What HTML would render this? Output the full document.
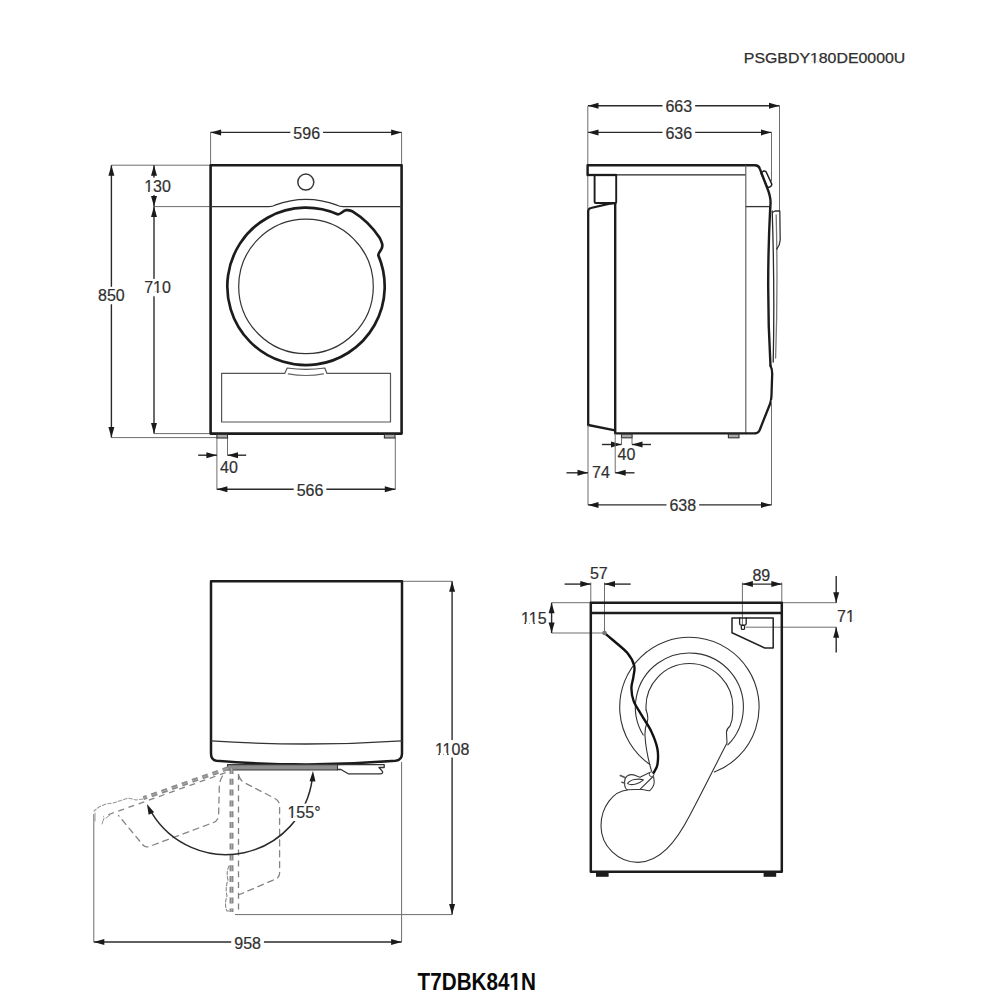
<!DOCTYPE html>
<html><head><meta charset="utf-8"><title>Dryer dimensions</title>
<style>
html,body{margin:0;padding:0;background:#fff;}
svg{display:block;}
text{font-family:"Liberation Sans",sans-serif;}
</style></head>
<body>
<svg width="1000" height="1000" viewBox="0 0 1000 1000">
<rect width="1000" height="1000" fill="#fff"/>
<text x="743.8" y="63.1" font-size="15" textLength="161.5" lengthAdjust="spacingAndGlyphs" fill="#2e2e2e" stroke="#2e2e2e" stroke-width="0.25">PSGBDY180DE0000U</text>
<rect x="810.53" y="61.53" width="3.35" height="2.52" fill="#fff"/>
<rect x="815.43" y="61.53" width="3.26" height="2.52" fill="#fff"/>
<line x1="210.6" y1="132.4" x2="210.6" y2="165.2" stroke="#6e6e6e" stroke-width="1" />
<line x1="401.6" y1="132.4" x2="401.6" y2="165.2" stroke="#6e6e6e" stroke-width="1" />
<line x1="111.4" y1="165.2" x2="210.6" y2="165.2" stroke="#6e6e6e" stroke-width="1" />
<line x1="154" y1="206.6" x2="210.6" y2="206.6" stroke="#6e6e6e" stroke-width="1" />
<line x1="154" y1="433.6" x2="210.6" y2="433.6" stroke="#6e6e6e" stroke-width="1" />
<line x1="111.4" y1="437.6" x2="227.5" y2="437.6" stroke="#6e6e6e" stroke-width="1" />
<line x1="216.9" y1="437.6" x2="216.9" y2="489.5" stroke="#6e6e6e" stroke-width="1" />
<line x1="227.5" y1="437.6" x2="227.5" y2="455.2" stroke="#6e6e6e" stroke-width="1" />
<line x1="395.3" y1="437.6" x2="395.3" y2="489.5" stroke="#6e6e6e" stroke-width="1" />
<line x1="210.6" y1="132.4" x2="401.6" y2="132.4" stroke="#2b2b2b" stroke-width="1.4" />
<polygon points="210.60,132.40 221.10,129.40 221.10,135.40" fill="#1a1a1a"/>
<polygon points="401.60,132.40 391.10,135.40 391.10,129.40" fill="#1a1a1a"/>
<rect x="290.36" y="124.47" width="32.69" height="17.46" fill="#fff"/>
<text x="306.7" y="138.93" font-size="16" text-anchor="middle" fill="#303030" stroke="#303030" stroke-width="0.2" font-weight="normal">596</text>
<line x1="111.4" y1="165.2" x2="111.4" y2="437.6" stroke="#2b2b2b" stroke-width="1.4" />
<polygon points="111.40,165.20 114.40,175.70 108.40,175.70" fill="#1a1a1a"/>
<polygon points="111.40,437.60 108.40,427.10 114.40,427.10" fill="#1a1a1a"/>
<rect x="95.06" y="286.77" width="32.69" height="17.46" fill="#fff"/>
<text x="111.4" y="301.23" font-size="16" text-anchor="middle" fill="#303030" stroke="#303030" stroke-width="0.2" font-weight="normal">850</text>
<line x1="154" y1="165.2" x2="154" y2="206.6" stroke="#2b2b2b" stroke-width="1.4" />
<polygon points="154.00,165.20 157.00,175.70 151.00,175.70" fill="#1a1a1a"/>
<polygon points="154.00,206.60 151.00,196.10 157.00,196.10" fill="#1a1a1a"/>
<rect x="141.16" y="177.57" width="32.69" height="17.46" fill="#fff"/>
<text x="157.5" y="192.03" font-size="16" text-anchor="middle" fill="#303030" stroke="#303030" stroke-width="0.2" font-weight="normal">130</text>
<rect x="144.72" y="190.38" width="3.37" height="2.60" fill="#fff"/>
<rect x="149.67" y="190.38" width="3.25" height="2.60" fill="#fff"/>
<line x1="154" y1="206.6" x2="154" y2="433.6" stroke="#2b2b2b" stroke-width="1.4" />
<polygon points="154.00,206.60 157.00,217.10 151.00,217.10" fill="#1a1a1a"/>
<polygon points="154.00,433.60 151.00,423.10 157.00,423.10" fill="#1a1a1a"/>
<rect x="141.16" y="278.87" width="32.69" height="17.46" fill="#fff"/>
<text x="157.5" y="293.33" font-size="16" text-anchor="middle" fill="#303030" stroke="#303030" stroke-width="0.2" font-weight="normal">710</text>
<rect x="153.62" y="291.68" width="3.37" height="2.60" fill="#fff"/>
<rect x="158.57" y="291.68" width="3.25" height="2.60" fill="#fff"/>
<line x1="198.2" y1="455.2" x2="216.9" y2="455.2" stroke="#2b2b2b" stroke-width="1.4" />
<polygon points="216.90,455.20 206.40,458.20 206.40,452.20" fill="#1a1a1a"/>
<line x1="227.5" y1="455.2" x2="246.2" y2="455.2" stroke="#2b2b2b" stroke-width="1.4" />
<polygon points="227.50,455.20 238.00,452.20 238.00,458.20" fill="#1a1a1a"/>
<text x="229" y="472.73" font-size="16" text-anchor="middle" fill="#303030" stroke="#303030" stroke-width="0.2" font-weight="normal">40</text>
<line x1="216.9" y1="489.3" x2="395.3" y2="489.3" stroke="#2b2b2b" stroke-width="1.4" />
<polygon points="216.90,489.30 227.40,486.30 227.40,492.30" fill="#1a1a1a"/>
<polygon points="395.30,489.30 384.80,492.30 384.80,486.30" fill="#1a1a1a"/>
<rect x="293.66" y="481.37" width="32.69" height="17.46" fill="#fff"/>
<text x="310" y="495.83" font-size="16" text-anchor="middle" fill="#303030" stroke="#303030" stroke-width="0.2" font-weight="normal">566</text>
<path d="M210.6,165.2 L401.6,165.2 L401.6,433.6 L210.6,433.6 Z" stroke="#1c1c1c" stroke-width="2.6" fill="none" stroke-linejoin="round" stroke-linecap="round" />
<path d="M210.6,206.6 L269,206.6 Q272.5,206.6 275,205.2 A87.4,87.4 0 0 1 337,205.2 Q339.5,206.6 343,206.6 L401.6,206.6" stroke="#333" stroke-width="1.25" fill="none" stroke-linejoin="round" stroke-linecap="round" />
<circle cx="305.8" cy="182.1" r="8.0" stroke="#3a3a3a" stroke-width="1.5" fill="none"/>
<path d="M378.34,255.40 A78.7,78.7 0 1 1 337.51,214.28 C340.51,214.88 342.6,210.6 346.2,210.2 C348.6,209.9 350.4,210.6 352.08,211.20 A88.2,88.2 0 0 1 379.80,238.10 C381.8,242.2 383.6,245.6 381.2,249.4 C379.6,251.8 378.2,253.6 378.34,255.40" stroke="#1c1c1c" stroke-width="2.7" fill="none" stroke-linejoin="round" stroke-linecap="round" />
<circle cx="306" cy="286.4" r="67.3" stroke="#333" stroke-width="1.2" fill="none"/>
<path d="M221.6,373.4 L284.7,373.4 L287.2,368 Q306,370.6 324.8,368 L327,373.4 L390.5,373.4 L390.5,422 L221.6,422 Z" stroke="#555" stroke-width="1.2" fill="none" stroke-linejoin="round" stroke-linecap="round" />
<path d="M288.3,373.8 Q306,377.2 323.5,373.8" stroke="#666" stroke-width="1.2" fill="none" stroke-linejoin="round" stroke-linecap="round" />
<rect x="216.9" y="434.40000000000003" width="10.6" height="3.6" fill="#aaa" stroke="#333" stroke-width="1.1"/>
<rect x="384.4" y="434.40000000000003" width="10.6" height="3.6" fill="#aaa" stroke="#333" stroke-width="1.1"/>
<line x1="587.8" y1="105.8" x2="587.8" y2="209" stroke="#6e6e6e" stroke-width="1" />
<line x1="779.5" y1="105.8" x2="779.5" y2="211" stroke="#6e6e6e" stroke-width="1" />
<line x1="771.5" y1="132.4" x2="771.5" y2="181" stroke="#6e6e6e" stroke-width="1" />
<line x1="588" y1="105.8" x2="779.5" y2="105.8" stroke="#2b2b2b" stroke-width="1.4" />
<polygon points="588.00,105.80 598.50,102.80 598.50,108.80" fill="#1a1a1a"/>
<polygon points="779.50,105.80 769.00,108.80 769.00,102.80" fill="#1a1a1a"/>
<rect x="662.46" y="97.87" width="32.69" height="17.46" fill="#fff"/>
<text x="678.8" y="112.33" font-size="16" text-anchor="middle" fill="#303030" stroke="#303030" stroke-width="0.2" font-weight="normal">663</text>
<line x1="588" y1="132.4" x2="771.5" y2="132.4" stroke="#2b2b2b" stroke-width="1.4" />
<polygon points="588.00,132.40 598.50,129.40 598.50,135.40" fill="#1a1a1a"/>
<polygon points="771.50,132.40 761.00,135.40 761.00,129.40" fill="#1a1a1a"/>
<rect x="662.46" y="124.47" width="32.69" height="17.46" fill="#fff"/>
<text x="678.8" y="138.93" font-size="16" text-anchor="middle" fill="#303030" stroke="#303030" stroke-width="0.2" font-weight="normal">636</text>
<path d="M587.6,175 L587.6,165.2 L755,165.2 Q758.6,165.2 759.8,168.6 L767.2,188 Q770.6,196 770.6,203 L770.2,208" stroke="#1c1c1c" stroke-width="2.4" fill="none" stroke-linejoin="round" stroke-linecap="round" />
<line x1="587.6" y1="175" x2="616.5" y2="175" stroke="#1c1c1c" stroke-width="2.3" />
<line x1="616.5" y1="174.8" x2="745.6" y2="174.8" stroke="#222" stroke-width="1.3" />
<line x1="745.8" y1="165" x2="745.8" y2="433" stroke="#555" stroke-width="1.1" />
<line x1="745.8" y1="206.6" x2="770" y2="206.6" stroke="#333" stroke-width="1.3" />
<path d="M761,173.4 Q762,171.6 764,171 Q765.6,170.8 766.3,172.2 L771.6,183.6 Q772.2,185.6 770.4,186.6 L769,187.2 Q767.6,187.6 767,186.2 Z" stroke="#1c1c1c" stroke-width="1.5" fill="none" stroke-linejoin="round" stroke-linecap="round" />
<path d="M594.6,175 L594.6,202 Q594.6,203 596,203 L615.2,203 Q616.2,203 616.2,202 L616.2,175" stroke="#1c1c1c" stroke-width="1.9" fill="none" stroke-linejoin="round" stroke-linecap="round" />
<path d="M588.2,425 L588.2,211 Q588.2,208.6 591,208 L608.6,203.8 L615,203.2" stroke="#1c1c1c" stroke-width="2.3" fill="none" stroke-linejoin="round" stroke-linecap="round" />
<path d="M588.2,425 L615,430.3" stroke="#1c1c1c" stroke-width="2.3" fill="none" stroke-linejoin="round" stroke-linecap="round" />
<line x1="615.2" y1="203" x2="615.2" y2="433.6" stroke="#1c1c1c" stroke-width="2.4" />
<path d="M615.2,433.4 L755,433.4 Q758,433.2 759.5,430.5 L770,404 Q771.5,400 771.6,392 L772.2,374 Q772.2,369 770.5,365.8" stroke="#1c1c1c" stroke-width="2.3" fill="none" stroke-linejoin="round" stroke-linecap="round" />
<path d="M770.2,208 Q766,290 770.5,365.8" stroke="#1c1c1c" stroke-width="2.4" fill="none" stroke-linejoin="round" stroke-linecap="round" />
<path d="M772.2,211 Q774.8,290 773.2,362" stroke="#2a2a2a" stroke-width="1.3" fill="none" stroke-linejoin="round" stroke-linecap="round" />
<path d="M776.2,215 Q778,290 775.6,358" stroke="#777" stroke-width="1.3" fill="none" stroke-linejoin="round" stroke-linecap="round" />
<path d="M772.5,212.5 L775,211 L779.8,211 L780.2,240 Q780,245 776.8,249" stroke="#333" stroke-width="1.3" fill="none" stroke-linejoin="round" stroke-linecap="round" />
<rect x="621.5" y="434.2" width="10.6" height="3.6" fill="#aaa" stroke="#333" stroke-width="1.1"/>
<rect x="728.4" y="434.2" width="10.6" height="3.6" fill="#aaa" stroke="#333" stroke-width="1.1"/>
<line x1="621.5" y1="437.6" x2="621.5" y2="444.5" stroke="#6e6e6e" stroke-width="1" />
<line x1="632" y1="437.6" x2="632" y2="444.5" stroke="#6e6e6e" stroke-width="1" />
<line x1="602" y1="444.5" x2="621.5" y2="444.5" stroke="#2b2b2b" stroke-width="1.4" />
<polygon points="621.50,444.50 611.00,447.50 611.00,441.50" fill="#1a1a1a"/>
<line x1="632" y1="444.5" x2="651" y2="444.5" stroke="#2b2b2b" stroke-width="1.4" />
<polygon points="632.00,444.50 642.50,441.50 642.50,447.50" fill="#1a1a1a"/>
<text x="626.5" y="459.73" font-size="16" text-anchor="middle" fill="#303030" stroke="#303030" stroke-width="0.2" font-weight="normal">40</text>
<line x1="615.2" y1="433.6" x2="615.2" y2="473" stroke="#6e6e6e" stroke-width="1" />
<line x1="588" y1="425" x2="588" y2="505" stroke="#6e6e6e" stroke-width="1" />
<line x1="566.5" y1="472.8" x2="588" y2="472.8" stroke="#2b2b2b" stroke-width="1.4" />
<polygon points="588.00,472.80 577.50,475.80 577.50,469.80" fill="#1a1a1a"/>
<line x1="615.2" y1="472.8" x2="634.5" y2="472.8" stroke="#2b2b2b" stroke-width="1.4" />
<polygon points="615.20,472.80 625.70,469.80 625.70,475.80" fill="#1a1a1a"/>
<text x="601" y="478.03" font-size="16" text-anchor="middle" fill="#303030" stroke="#303030" stroke-width="0.2" font-weight="normal">74</text>
<line x1="771.5" y1="400" x2="771.5" y2="505" stroke="#6e6e6e" stroke-width="1" />
<line x1="588" y1="504.9" x2="771.5" y2="504.9" stroke="#2b2b2b" stroke-width="1.4" />
<polygon points="588.00,504.90 598.50,501.90 598.50,507.90" fill="#1a1a1a"/>
<polygon points="771.50,504.90 761.00,507.90 761.00,501.90" fill="#1a1a1a"/>
<rect x="666.46" y="496.97" width="32.69" height="17.46" fill="#fff"/>
<text x="682.8" y="511.43" font-size="16" text-anchor="middle" fill="#303030" stroke="#303030" stroke-width="0.2" font-weight="normal">638</text>
<line x1="402" y1="581.3" x2="452.1" y2="581.3" stroke="#6e6e6e" stroke-width="1" />
<line x1="235" y1="914.6" x2="452.1" y2="914.6" stroke="#6e6e6e" stroke-width="1" />
<line x1="452.1" y1="581.3" x2="452.1" y2="914.6" stroke="#2b2b2b" stroke-width="1.4" />
<polygon points="452.10,581.30 455.10,591.80 449.10,591.80" fill="#1a1a1a"/>
<polygon points="452.10,914.60 449.10,904.10 455.10,904.10" fill="#1a1a1a"/>
<rect x="431.31" y="740.07" width="41.58" height="17.46" fill="#fff"/>
<text x="452.1" y="754.53" font-size="16" text-anchor="middle" fill="#303030" stroke="#303030" stroke-width="0.2" font-weight="normal">1108</text>
<rect x="434.88" y="752.88" width="3.37" height="2.60" fill="#fff"/>
<rect x="439.82" y="752.88" width="3.25" height="2.60" fill="#fff"/>
<rect x="443.77" y="752.88" width="3.37" height="2.60" fill="#fff"/>
<rect x="448.72" y="752.88" width="3.25" height="2.60" fill="#fff"/>
<line x1="93.8" y1="814" x2="93.8" y2="942" stroke="#6e6e6e" stroke-width="1" />
<line x1="401.6" y1="762" x2="401.6" y2="942" stroke="#6e6e6e" stroke-width="1" />
<line x1="93.8" y1="942" x2="401.6" y2="942" stroke="#2b2b2b" stroke-width="1.4" />
<polygon points="93.80,942.00 104.30,939.00 104.30,945.00" fill="#1a1a1a"/>
<polygon points="401.60,942.00 391.10,945.00 391.10,939.00" fill="#1a1a1a"/>
<rect x="231.26" y="934.07" width="32.69" height="17.46" fill="#fff"/>
<text x="247.6" y="948.53" font-size="16" text-anchor="middle" fill="#303030" stroke="#303030" stroke-width="0.2" font-weight="normal">958</text>
<path d="M211,581.3 L402,581.3 L402,753.5 Q402,760 395.5,760.8 Q306,768 216.5,760.8 Q211,760 211,753.5 Z" stroke="#1c1c1c" stroke-width="2.5" fill="none" stroke-linejoin="round" stroke-linecap="round" />
<path d="M211,740.8 Q306,747.2 402,740.8" stroke="#333" stroke-width="1.3" fill="none" stroke-linejoin="round" stroke-linecap="round" />
<path d="M227.5,764.6 L337.5,764.6 L337.5,770 L227.5,770 Z" stroke="#3a3a3a" stroke-width="1.1" fill="#8e8e8e" stroke-linejoin="round" stroke-linecap="round" />
<path d="M337.5,764.6 L384.2,764.6 L384.2,767.5 L379,767.5 L382.6,771.6 Q382.8,773.8 380.5,773.8 L348.2,773.8 L341,769.5 L337.5,769.5" stroke="#333" stroke-width="1.3" fill="none" stroke-linejoin="round" stroke-linecap="round" />
<line x1="231.5" y1="768" x2="231.5" y2="912" stroke="#8a8a8a" stroke-width="4.0" stroke-dasharray="6,4.8"/>
<line x1="231.5" y1="768" x2="231.5" y2="912" stroke="#b8b8b8" stroke-width="0.7" stroke-dasharray="6,4.8"/>
<line x1="238.5" y1="774" x2="238.5" y2="913" stroke="#808080" stroke-width="1.3" stroke-dasharray="6,4.8"/>
<path d="M239,776 Q240,781 246,783.5 L275,798.5 Q279.6,801 279.6,806 L279.6,873 Q279.6,878 274.5,879.5 L239.5,894.5" stroke="#858585" stroke-width="1.3" fill="none" stroke-linejoin="round" stroke-linecap="round" stroke-dasharray="6,4.8"/>
<path d="M229,866 Q226,872 228,880 Q225,888 227,896 Q224,904 227,911 L230,911" stroke="#888" stroke-width="1.1" fill="none" stroke-linejoin="round" stroke-linecap="round" stroke-dasharray="3.5,2"/>
<line x1="228.4" y1="768.2" x2="143.4" y2="798.2" stroke="#8a8a8a" stroke-width="4.0" stroke-dasharray="6,4.8"/>
<line x1="228.4" y1="768.2" x2="143.4" y2="798.2" stroke="#b8b8b8" stroke-width="0.7" stroke-dasharray="6,4.8"/>
<path d="M143,799 L136,800 L128,798 L121,800.5 L113,803 L106,804 L99,807 L94,811" stroke="#999" stroke-width="1.1" fill="none" stroke-linejoin="round" stroke-linecap="round" stroke-dasharray="3.5,2"/>
<line x1="225.6" y1="772.6" x2="103" y2="816.6" stroke="#858585" stroke-width="1.3" stroke-dasharray="6,4.8"/>
<path d="M222.4,776 Q219.5,781 219.3,787 L218.6,815 Q218,821 213.5,822.5 L149,846.6 Q145,847.6 143,845 L118.5,815.5" stroke="#858585" stroke-width="1.3" fill="none" stroke-linejoin="round" stroke-linecap="round" stroke-dasharray="6,4.8"/>
<path d="M95,821 L95,813 M102,824 L104,818 M106,818 L110,815" stroke="#999" stroke-width="1" fill="none" stroke-linejoin="round" stroke-linecap="round" />
<path d="M312.35,778.20 A87,87 0 0 1 151.43,812.41" stroke="#2a2a2a" stroke-width="1.5" fill="none" stroke-linejoin="round" stroke-linecap="round" />
<polygon points="312.94,770.94 315.53,781.55 309.54,781.32" fill="#1a1a1a"/>
<polygon points="146.96,803.95 154.07,812.24 148.62,814.75" fill="#1a1a1a"/>
<rect x="283.21" y="803.57" width="41.58" height="17.46" fill="#fff"/>
<text x="304" y="818.03" font-size="16" text-anchor="middle" fill="#303030" stroke="#303030" stroke-width="0.2" font-weight="normal">155°</text>
<rect x="288.02" y="816.38" width="3.37" height="2.60" fill="#fff"/>
<rect x="292.97" y="816.38" width="3.25" height="2.60" fill="#fff"/>
<line x1="551.6" y1="602.7" x2="590.8" y2="602.7" stroke="#6e6e6e" stroke-width="1" />
<line x1="551.6" y1="633" x2="604.5" y2="633" stroke="#6e6e6e" stroke-width="1" />
<line x1="590.8" y1="582.5" x2="590.8" y2="602.7" stroke="#6e6e6e" stroke-width="1" />
<line x1="604.5" y1="582.5" x2="604.5" y2="633" stroke="#6e6e6e" stroke-width="1" />
<line x1="742.4" y1="582.5" x2="742.4" y2="626" stroke="#6e6e6e" stroke-width="1" />
<line x1="781.8" y1="582.5" x2="781.8" y2="602.7" stroke="#6e6e6e" stroke-width="1" />
<line x1="781.8" y1="602.7" x2="836.2" y2="602.7" stroke="#6e6e6e" stroke-width="1" />
<line x1="746" y1="627.2" x2="836.2" y2="627.2" stroke="#6e6e6e" stroke-width="1" />
<line x1="564.6" y1="584.1" x2="590.8" y2="584.1" stroke="#2b2b2b" stroke-width="1.4" />
<polygon points="590.80,584.10 580.30,587.10 580.30,581.10" fill="#1a1a1a"/>
<line x1="604.5" y1="584.1" x2="630.7" y2="584.1" stroke="#2b2b2b" stroke-width="1.4" />
<polygon points="604.50,584.10 615.00,581.10 615.00,587.10" fill="#1a1a1a"/>
<text x="598.8" y="578.73" font-size="16" text-anchor="middle" fill="#303030" stroke="#303030" stroke-width="0.2" font-weight="normal">57</text>
<line x1="551.6" y1="602.7" x2="551.6" y2="633" stroke="#2b2b2b" stroke-width="1.4" />
<polygon points="551.60,602.70 554.60,613.20 548.60,613.20" fill="#1a1a1a"/>
<polygon points="551.60,633.00 548.60,622.50 554.60,622.50" fill="#1a1a1a"/>
<text x="533.8" y="623.73" font-size="16" text-anchor="middle" fill="#303030" stroke="#303030" stroke-width="0.2" font-weight="normal">115</text>
<rect x="521.02" y="622.08" width="3.37" height="2.60" fill="#fff"/>
<rect x="525.97" y="622.08" width="3.25" height="2.60" fill="#fff"/>
<rect x="529.92" y="622.08" width="3.37" height="2.60" fill="#fff"/>
<rect x="534.87" y="622.08" width="3.25" height="2.60" fill="#fff"/>
<line x1="742.4" y1="584.1" x2="781.8" y2="584.1" stroke="#2b2b2b" stroke-width="1.4" />
<polygon points="742.40,584.10 752.90,581.10 752.90,587.10" fill="#1a1a1a"/>
<polygon points="781.80,584.10 771.30,587.10 771.30,581.10" fill="#1a1a1a"/>
<text x="761.3" y="581.13" font-size="16" text-anchor="middle" fill="#303030" stroke="#303030" stroke-width="0.2" font-weight="normal">89</text>
<line x1="836.2" y1="576" x2="836.2" y2="602.7" stroke="#2b2b2b" stroke-width="1.4" />
<polygon points="836.20,602.70 833.20,592.20 839.20,592.20" fill="#1a1a1a"/>
<line x1="836.2" y1="652.4" x2="836.2" y2="627.2" stroke="#2b2b2b" stroke-width="1.4" />
<polygon points="836.20,627.20 839.20,637.70 833.20,637.70" fill="#1a1a1a"/>
<text x="846" y="622.03" font-size="16" text-anchor="middle" fill="#303030" stroke="#303030" stroke-width="0.2" font-weight="normal">71</text>
<rect x="846.57" y="620.38" width="3.37" height="2.60" fill="#fff"/>
<rect x="851.52" y="620.38" width="3.25" height="2.60" fill="#fff"/>
<path d="M590.8,602.7 L781.8,602.7 L781.8,871.8 L590.8,871.8 Z" stroke="#1c1c1c" stroke-width="2.5" fill="none" stroke-linejoin="round" stroke-linecap="round" />
<line x1="590.8" y1="613" x2="781.8" y2="613" stroke="#1c1c1c" stroke-width="2.4" />
<rect x="596" y="871.8" width="12.6" height="5" fill="#1c1c1c"/>
<rect x="763.6" y="871.8" width="12.6" height="5" fill="#1c1c1c"/>
<path d="M732,618 L773.2,618 L773.2,648 L764.8,648 L732,632.8 Z" stroke="#222" stroke-width="1.5" fill="none" stroke-linejoin="round" stroke-linecap="round" />
<path d="M739.6,618 L739.6,623.5 Q739.6,625.2 741.2,625.2 L744.6,625.2 Q746.2,625.2 746.2,623.5 L746.2,618" stroke="#222" stroke-width="1.3" fill="none" stroke-linejoin="round" stroke-linecap="round" />
<rect x="741.3" y="625.4" width="3.3" height="4" rx="1.2" fill="none" stroke="#222" stroke-width="1.3"/>
<path d="M714.38,772.07 A69.7,69.7 0 1 0 649.82,764.37" stroke="#333" stroke-width="1.1" fill="none" stroke-linejoin="round" stroke-linecap="round" />
<path d="M727.78,744.98 A54,54 0 1 0 643.21,734.97" stroke="#333" stroke-width="1.1" fill="none" stroke-linejoin="round" stroke-linecap="round" />
<path d="M646.11,710.03 A43.4,43.4 0 1 1 732.69,710.03 Q733.2,719 730,726 Q726,729.5 726.5,733 L727,743 C718,760 706,785 690,815 C676,842 660,862 638,862.4 C618,862.4 601,846 601,826 C601,806 614,791 627.5,790" stroke="#333" stroke-width="1.1" fill="none" stroke-linejoin="round" stroke-linecap="round" />
<path d="M646.11,710.03 Q648.5,716 647.5,721 Q644.5,729 645,736 Q646,752 651.5,771" stroke="#333" stroke-width="1.1" fill="none" stroke-linejoin="round" stroke-linecap="round" />
<path d="M640,777.2 C637,776.6 635,774.6 631.2,774.6 C628,774.6 624.5,777 624.5,782.4 C624.5,787 626,789.8 628.5,789.8 L640,789.2 C644,789.5 647,791 649.5,790.7 C652,789 654.5,785 654.2,781.5 L653.6,776.5 M640,777.2 L649.6,772.6 M640.2,789.2 L652.6,777" stroke="#3a3a3a" stroke-width="1.1" fill="none" stroke-linejoin="round" stroke-linecap="round" />
<path d="M627.6,783.6 C630,779.5 638,778.2 643.4,779.8 C640,783 632,786.4 627.6,783.6 Z" stroke="#3a3a3a" stroke-width="1.1" fill="none" stroke-linejoin="round" stroke-linecap="round" />
<circle cx="651.6" cy="774.2" r="2.4" fill="#fff" stroke="#444" stroke-width="1"/>
<path d="M620.3,775.6 L625.5,777.8 M621.9,782.2 L624.6,783" stroke="#555" stroke-width="1.6" fill="none" stroke-linejoin="round" stroke-linecap="round" />
<path d="M604.50,633.00 C605.88,634.17 609.02,636.70 612.80,640.00 C616.58,643.30 623.63,648.53 627.20,652.80 C630.77,657.07 633.17,661.60 634.20,665.60 C635.23,669.60 633.87,673.07 633.40,676.80 C632.93,680.53 631.37,684.00 631.40,688.00 C631.43,692.00 631.90,696.27 633.60,700.80 C635.30,705.33 638.67,710.13 641.60,715.20 C644.53,720.27 648.57,725.60 651.20,731.20 C653.83,736.80 656.37,743.20 657.40,748.80 C658.43,754.40 658.03,760.80 657.40,764.80 C656.77,768.80 654.23,771.47 653.60,772.80 " stroke="#111" stroke-width="2.4" fill="none" stroke-linejoin="round" stroke-linecap="round" />
<circle cx="604.5" cy="633" r="2.3" fill="#777"/>
<text x="417.6" y="989.8" font-size="23.2" textLength="118.4" lengthAdjust="spacingAndGlyphs" font-weight="bold" fill="#0a0a0a">T7DBK841N</text>
<rect x="510.20" y="986.98" width="4.08" height="3.77" fill="#fff"/>
<rect x="517.31" y="986.98" width="3.86" height="3.77" fill="#fff"/>
</svg>
</body></html>
